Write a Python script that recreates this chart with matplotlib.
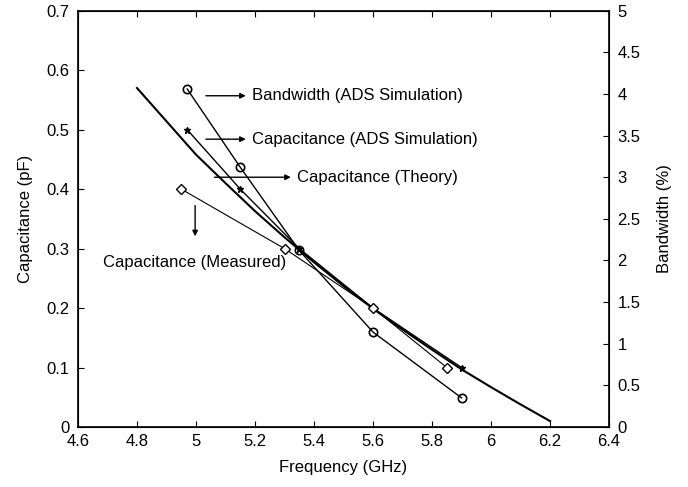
import matplotlib.pyplot as plt

plt.rcParams['font.family'] = ['Liberation Sans', 'DejaVu Sans']

# Theoretical capacitance curve (pF) vs frequency (GHz)
f_theory = [4.8, 4.9, 5.0, 5.1, 5.2, 5.3, 5.4, 5.5, 5.6, 5.7, 5.8, 5.9, 6.0, 6.1, 6.2]
c_theory = [0.570, 0.514, 0.458, 0.410, 0.363, 0.319, 0.277, 0.237, 0.199, 0.164,
            0.130, 0.097, 0.067, 0.038, 0.010]

# ADS simulated capacitance
f_ads = [4.97, 5.15, 5.35, 5.6, 5.9]
c_ads = [0.50, 0.40, 0.30, 0.20, 0.10]

# Measured capacitance
f_meas = [4.95, 5.3, 5.6, 5.85]
c_meas = [0.40, 0.30, 0.20, 0.10]

# ADS simulated bandwidth (%)
f_bw = [4.97, 5.15, 5.35, 5.6, 5.9]
bw_ads = [4.06, 3.12, 2.12, 1.14, 0.35]

fig = plt.figure(figsize=(6.88, 4.87), dpi=100)
ax = fig.add_axes([0.1134, 0.1232, 0.7718, 0.8548])

ax.plot(f_theory, c_theory, color='black', lw=1.5)
ax.plot(f_ads, c_ads, color='black', lw=1.0, marker='*', ms=5)
ax.plot(f_meas, c_meas, color='black', lw=0.8, marker='D', ms=5,
        mfc='white', mew=1.0)

ax.set_xlim(4.6, 6.4)
ax.set_ylim(0, 0.7)
ax.set_xticks([4.6, 4.8, 5.0, 5.2, 5.4, 5.6, 5.8, 6.0, 6.2, 6.4])
ax.set_xticklabels(['4.6', '4.8', '5', '5.2', '5.4', '5.6', '5.8', '6', '6.2', '6.4'])
ax.set_yticks([0, 0.1, 0.2, 0.3, 0.4, 0.5, 0.6, 0.7])
ax.set_yticklabels(['0', '0.1', '0.2', '0.3', '0.4', '0.5', '0.6', '0.7'])
ax.tick_params(direction='in', top=True, right=True, length=4, labelsize=12)
ax.tick_params(axis='x', pad=5)
ax.tick_params(axis='y', pad=6)
for s in ax.spines.values():
    s.set_linewidth(1.2)
ax.set_xlabel('Frequency (GHz)', fontsize=12, labelpad=8)
ax.set_ylabel('Capacitance (pF)', fontsize=12, labelpad=10)

ax2 = ax.twinx()
ax2.plot(f_bw, bw_ads, color='black', lw=1.0, marker='o', ms=6,
         mfc='none', mew=1.2)
ax2.set_ylim(0, 5)
ax2.set_yticks([0, 0.5, 1, 1.5, 2, 2.5, 3, 3.5, 4, 4.5, 5])
ax2.set_yticklabels(['0', '0.5', '1', '1.5', '2', '2.5', '3', '3.5', '4', '4.5', '5'])
ax2.tick_params(direction='in', length=4, labelsize=12, pad=6)
ax2.set_ylabel('Bandwidth (%)', fontsize=12, labelpad=12)

# Labels with arrows pointing at each curve's name
arrow = dict(arrowstyle='-|>', color='black', lw=1.0, mutation_scale=8)
ax.annotate('', xy=(5.178, 0.557), xytext=(5.024, 0.557), arrowprops=arrow)
ax.text(5.19, 0.557, 'Bandwidth (ADS Simulation)', fontsize=12, va='center')
ax.annotate('', xy=(5.178, 0.484), xytext=(5.024, 0.484), arrowprops=arrow)
ax.text(5.19, 0.484, 'Capacitance (ADS Simulation)', fontsize=12, va='center')
ax.annotate('', xy=(5.331, 0.420), xytext=(5.053, 0.420), arrowprops=arrow)
ax.text(5.343, 0.420, 'Capacitance (Theory)', fontsize=12, va='center')
ax.annotate('', xy=(4.997, 0.316), xytext=(4.997, 0.377), arrowprops=arrow)
ax.text(4.685, 0.276, 'Capacitance (Measured)', fontsize=12, va='center')

fig.savefig('out.png', dpi=100)
